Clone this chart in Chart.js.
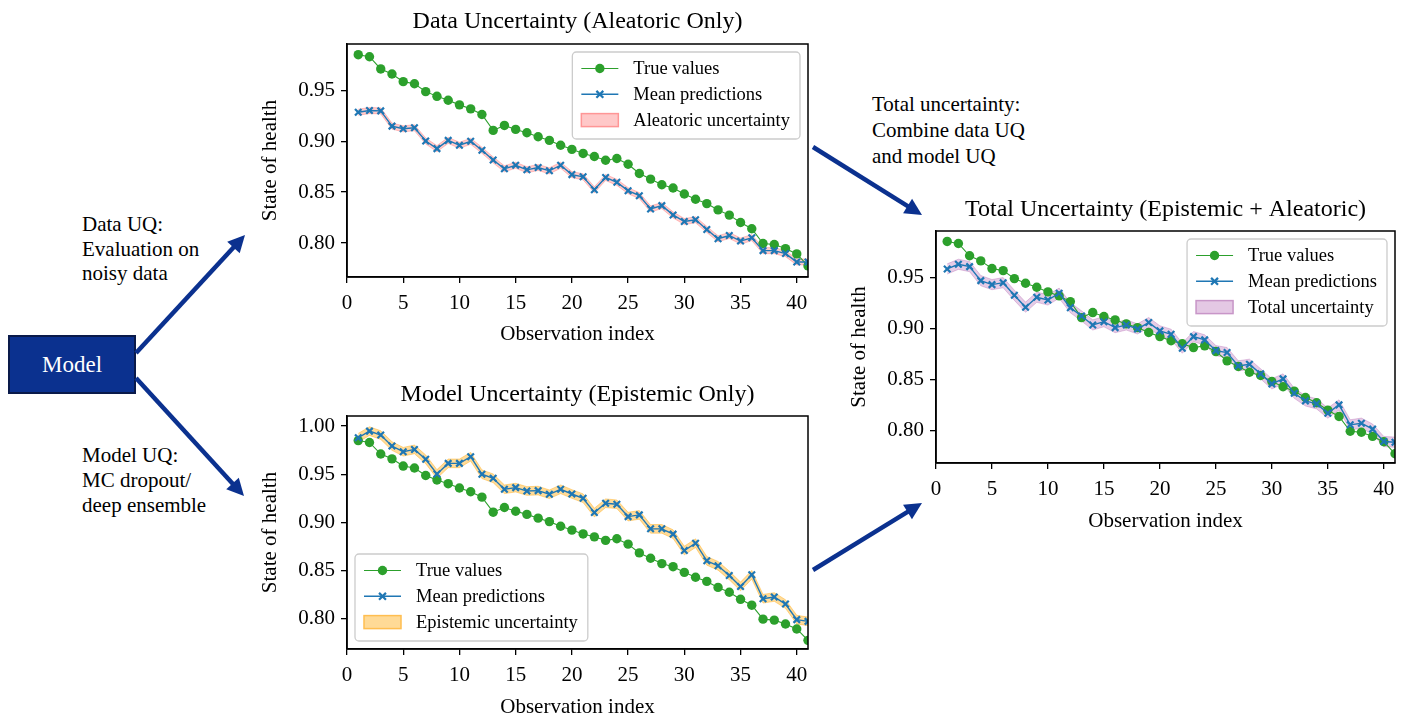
<!DOCTYPE html>
<html><head><meta charset="utf-8">
<script src="https://cdn.jsdelivr.net/npm/chart.js@4.4.0/dist/chart.umd.min.js"></script>
<style>
html,body{margin:0;padding:0;background:#fff;}
#stage{position:relative;width:1407px;height:716px;overflow:hidden;font-family:'Liberation Serif','Times New Roman',serif;color:#000;}
.cv{position:absolute;}
.note{position:absolute;font-size:21px;white-space:pre;}
#model{position:absolute;left:8px;top:335px;width:124px;height:55px;background:#0b318f;border:2px solid #0a1a4a;color:#fff;font-size:23px;display:flex;align-items:center;justify-content:center;}
#arrows{position:absolute;left:0;top:0;pointer-events:none;}
</style></head>
<body><div id="stage">
<canvas id="c1" class="cv" style="left:250px;top:0px;" width="570" height="347"></canvas>
<canvas id="c2" class="cv" style="left:250px;top:372px;" width="570" height="348"></canvas>
<canvas id="c3" class="cv" style="left:839px;top:187px;" width="568" height="347"></canvas>
<div id="model">Model</div>
<div class="note" style="left:82px;top:212px;line-height:24.5px;">Data UQ:
Evaluation on
noisy data</div>
<div class="note" style="left:82px;top:443px;line-height:25px;">Model UQ:
MC dropout/
deep ensemble</div>
<div class="note" style="left:872px;top:92px;line-height:25.8px;">Total uncertainty:
Combine data UQ
and model UQ</div>
<svg id="arrows" width="1407" height="716"></svg>
</div>
<script>
// ---------------- data ----------------
const obsIndex = [1,2,3,4,5,6,7,8,9,10,11,12,13,14,15,16,17,18,19,20,21,22,23,24,25,26,27,28,29,30,31,32,33,34,35,36,37,38,39,40,41];
const xTicks = [0,5,10,15,20,25,30,35,40];
const trueValues = [0.985,0.983,0.971,0.966,0.9585,0.9565,0.9487,0.9441,0.9402,0.9357,0.9318,0.9262,0.9106,0.9155,0.9116,0.9083,0.9044,0.9008,0.896,0.892,0.888,0.885,0.8813,0.883,0.8774,0.8683,0.8628,0.8572,0.854,0.8481,0.843,0.8387,0.8325,0.8274,0.8201,0.8140,0.7995,0.7985,0.7945,0.7893,0.7775];
const meanAleatoric = [0.9285,0.9301,0.9298,0.9148,0.9122,0.9132,0.9002,0.8927,0.9008,0.896,0.8999,0.8911,0.8816,0.8729,0.8764,0.8719,0.8742,0.8709,0.8764,0.8672,0.865,0.8523,0.8644,0.8596,0.8514,0.8465,0.8335,0.8367,0.8276,0.8211,0.8228,0.8133,0.8042,0.8074,0.8019,0.8052,0.7925,0.7925,0.7896,0.7814,0.7814];
const aleatoricHalf = [0.003,0.003,0.003,0.003,0.003,0.003,0.003,0.003,0.003,0.003,0.003,0.003,0.003,0.003,0.003,0.003,0.003,0.003,0.003,0.003,0.003,0.003,0.003,0.003,0.003,0.003,0.003,0.003,0.003,0.003,0.003,0.003,0.003,0.003,0.003,0.003,0.003,0.003,0.003,0.003,0.003];
const meanEpistemic = [0.9879,0.9948,0.9907,0.9793,0.9734,0.9758,0.9655,0.9503,0.9613,0.9613,0.9682,0.95,0.9458,0.9344,0.9361,0.9326,0.933,0.9292,0.9344,0.9295,0.9251,0.9102,0.9199,0.9188,0.906,0.9078,0.8933,0.8933,0.8878,0.8708,0.8784,0.8601,0.8549,0.8449,0.8335,0.8456,0.8207,0.8225,0.8152,0.799,0.7972];
const epistemicHalf = [0.0045,0.0045,0.0045,0.0045,0.0045,0.0045,0.0045,0.0045,0.0045,0.0045,0.0045,0.0045,0.0045,0.0045,0.0045,0.0045,0.0045,0.0045,0.0045,0.0045,0.0045,0.0045,0.0045,0.0045,0.0045,0.0045,0.0045,0.0045,0.0045,0.0045,0.0045,0.0045,0.0045,0.0045,0.0045,0.0045,0.0045,0.0045,0.0045,0.0045,0.0045];
const meanTotal = [0.9581,0.9627,0.9604,0.9467,0.9428,0.9447,0.9324,0.9207,0.9305,0.9278,0.9344,0.9203,0.9122,0.9034,0.9066,0.9008,0.9034,0.8995,0.9057,0.8976,0.8943,0.8807,0.892,0.8888,0.8783,0.8764,0.8634,0.865,0.8556,0.8458,0.8507,0.8367,0.8292,0.8263,0.8172,0.8253,0.8058,0.8074,0.8016,0.7895,0.7888];
const totalHalf = [0.005,0.005,0.005,0.005,0.005,0.005,0.005,0.005,0.005,0.005,0.005,0.005,0.005,0.005,0.005,0.005,0.005,0.005,0.005,0.005,0.005,0.005,0.005,0.005,0.005,0.005,0.005,0.005,0.005,0.005,0.005,0.005,0.005,0.005,0.005,0.005,0.005,0.005,0.005,0.005,0.005];
const yTicksAleatoric = [0.80,0.85,0.90,0.95];
const yTicksEpistemic = [0.80,0.85,0.90,0.95,1.00];
const yTicksTotal = [0.80,0.85,0.90,0.95];

// ---------------- chart setup ----------------
Chart.defaults.font.family = "'Liberation Serif','Times New Roman',serif";
Chart.defaults.color = '#000';
const FONT = "'Liberation Serif','Times New Roman',serif";

const frameAndLegend = {
  id: 'frameAndLegend',
  afterDatasetsDraw(chart, args, opts) {
    const ctx = chart.ctx, ca = chart.chartArea;
    ctx.save();
    ctx.strokeStyle = '#000'; ctx.lineWidth = 1.5;
    ctx.strokeRect(ca.left, ca.top, ca.right - ca.left, ca.bottom - ca.top);
    const items = chart.data.datasets.filter(d => d.legendRank !== undefined).sort((a,b) => a.legendRank - b.legendRank);
    ctx.font = '18.5px ' + FONT;
    const textX = 61, padR = 10, rowH = 25.8, top0 = 16.5, h = 87;
    const w = Math.max(...items.map(d => ctx.measureText(d.label).width)) + textX + padR;
    let x, y;
    if (opts.corner === 'lower left') { x = ca.left + opts.inset; y = ca.bottom - opts.inset - h; }
    else { x = ca.right - opts.inset - w; y = ca.top + opts.inset; }
    ctx.beginPath();
    ctx.roundRect(x, y, w, h, 4);
    ctx.fillStyle = 'rgba(255,255,255,0.8)'; ctx.fill();
    ctx.strokeStyle = '#cccccc'; ctx.lineWidth = 1.3; ctx.stroke();
    items.forEach((d, i) => {
      const ry = y + top0 + i * rowH;
      if (d.legendKind === 'patch') {
        ctx.fillStyle = d.legendFill; ctx.fillRect(x + 9, ry - 6.5, 37, 13);
        ctx.strokeStyle = d.legendEdge; ctx.lineWidth = 1.5; ctx.strokeRect(x + 9, ry - 6.5, 37, 13);
      } else {
        ctx.strokeStyle = d.borderColor; ctx.lineWidth = d.borderWidth;
        ctx.beginPath(); ctx.moveTo(x + 9, ry); ctx.lineTo(x + 46, ry); ctx.stroke();
        const cx = x + 27.5;
        if (d.pointStyle === 'circle') {
          ctx.fillStyle = d.pointBackgroundColor; ctx.beginPath(); ctx.arc(cx, ry, d.pointRadius, 0, Math.PI * 2); ctx.fill();
        } else {
          const r = d.pointRadius * 0.75;
          ctx.strokeStyle = d.pointBorderColor; ctx.lineWidth = d.pointBorderWidth;
          ctx.beginPath(); ctx.moveTo(cx - r, ry - r); ctx.lineTo(cx + r, ry + r); ctx.moveTo(cx - r, ry + r); ctx.lineTo(cx + r, ry - r); ctx.stroke();
        }
      }
      ctx.fillStyle = '#000'; ctx.textBaseline = 'middle'; ctx.textAlign = 'left';
      ctx.fillText(d.label, x + textX, ry + 1);
    });
    ctx.restore();
  }
};

function pts(vals) { return obsIndex.map((x, i) => ({ x: x, y: vals[i] })); }
function shifted(vals, half, sign) { return obsIndex.map((x, i) => ({ x: x, y: vals[i] + sign * half[i] })); }

function makeChart(id, p) {
  return new Chart(document.getElementById(id), {
    type: 'line',
    data: {
      datasets: [
        { label: 'band-lower', data: shifted(p.mean, p.half, -1), borderColor: p.edge, borderWidth: 1, pointRadius: 0, fill: false, order: 3, tension: 0 },
        { label: p.bandLabel, data: shifted(p.mean, p.half, 1), borderColor: p.edge, borderWidth: 1, pointRadius: 0, fill: '-1', backgroundColor: p.fill, order: 2, tension: 0,
          legendRank: 2, legendKind: 'patch', legendFill: p.legendFill, legendEdge: p.legendEdge },
        { label: 'True values', data: pts(trueValues), borderColor: '#2ca02c', borderWidth: 1.1, pointStyle: 'circle', pointRadius: 4.7, pointBorderWidth: 0,
          pointBackgroundColor: '#2ca02c', pointBorderColor: '#2ca02c', order: 1, tension: 0, legendRank: 0, legendKind: 'line' },
        { label: 'Mean predictions', data: pts(p.mean), borderColor: '#1f77b4', borderWidth: 1.4, pointStyle: 'crossRot', pointRadius: 4.6, pointBorderWidth: 2.2,
          pointBackgroundColor: '#1f77b4', pointBorderColor: '#1f77b4', order: 0, tension: 0, legendRank: 1, legendKind: 'line' }
      ]
    },
    options: {
      responsive: false, animation: false, devicePixelRatio: 1,
      layout: { padding: { left: 0, top: 0, right: 12, bottom: 0 } },
      plugins: {
        legend: { display: false }, tooltip: { enabled: false },
        title: { display: true, fullSize: false, text: p.title, font: { size: 24, weight: 'normal', lineHeight: 1.2 }, padding: { top: p.titleTop, bottom: 44 - p.titleTop - 28.8 }, color: '#000' },
        frameAndLegend: { corner: p.corner, inset: p.inset }
      },
      scales: {
        x: {
          type: 'linear', min: 0, max: 41,
          afterBuildTicks: s => { s.ticks = xTicks.map(v => ({ value: v })); },
          afterFit: s => { s.height = p.xAxisH; },
          ticks: { font: { size: 21 }, padding: 8, maxRotation: 0, callback: v => String(v) },
          grid: { display: true, drawOnChartArea: false, drawTicks: true, tickLength: 6, color: '#000', lineWidth: 1.3 },
          border: { display: true, color: '#000', width: 1.5 },
          title: { display: true, text: 'Observation index', font: { size: 21 }, padding: { top: 0, bottom: 0 } }
        },
        y: {
          type: 'linear', min: p.ymin, max: p.ymax,
          afterBuildTicks: s => { s.ticks = p.yTicks.map(v => ({ value: v })); },
          afterFit: s => { s.width = 97; },
          ticks: { font: { size: 21 }, padding: 6, callback: v => Number(v).toFixed(2) },
          grid: { display: true, drawOnChartArea: false, drawTicks: true, tickLength: 6, color: '#000', lineWidth: 1.3 },
          border: { display: true, color: '#000', width: 1.5 },
          title: { display: true, text: 'State of health', font: { size: 21 }, padding: { top: 8, bottom: 0 } }
        }
      }
    },
    plugins: [frameAndLegend]
  });
}

makeChart('c1', { title: 'Data Uncertainty (Aleatoric Only)', mean: meanAleatoric, half: aleatoricHalf, bandLabel: 'Aleatoric uncertainty',
  fill: 'rgba(255,0,0,0.2)', edge: 'rgba(255,0,0,0.2)', legendFill: 'rgba(255,200,200,1)', legendEdge: 'rgba(255,150,150,1)',
  ymin: 0.7666, ymax: 0.9955, yTicks: yTicksAleatoric, corner: 'upper right', inset: 8, xAxisH: 70, titleTop: 7 });
makeChart('c2', { title: 'Model Uncertainty (Epistemic Only)', mean: meanEpistemic, half: epistemicHalf, bandLabel: 'Epistemic uncertainty',
  fill: 'rgba(255,165,0,0.4)', edge: 'rgba(255,165,0,0.4)', legendFill: 'rgba(255,218,150,1)', legendEdge: 'rgba(255,190,80,1)',
  ymin: 0.7685, ymax: 1.0105, yTicks: yTicksEpistemic, corner: 'lower left', inset: 8, xAxisH: 71, titleTop: 8 });
makeChart('c3', { title: 'Total Uncertainty (Epistemic + Aleatoric)', mean: meanTotal, half: totalHalf, bandLabel: 'Total uncertainty',
  fill: 'rgba(128,0,128,0.2)', edge: 'rgba(128,0,128,0.2)', legendFill: 'rgba(228,200,228,1)', legendEdge: 'rgba(200,150,200,1)',
  ymin: 0.7685, ymax: 0.9952, yTicks: yTicksTotal, corner: 'upper right', inset: 8, xAxisH: 71, titleTop: 8 });

// ---------------- arrows ----------------
const svg = document.getElementById('arrows');
const NS = 'http://www.w3.org/2000/svg';
function arrow(x1, y1, x2, y2) {
  const col = '#0b318f', hl = 17, hw = 8.5, lw = 4.5;
  const dx = x2 - x1, dy = y2 - y1, L = Math.hypot(dx, dy), ux = dx / L, uy = dy / L;
  const bx = x2 - ux * hl, by = y2 - uy * hl;
  const line = document.createElementNS(NS, 'line');
  line.setAttribute('x1', x1); line.setAttribute('y1', y1);
  line.setAttribute('x2', bx + ux * 2); line.setAttribute('y2', by + uy * 2);
  line.setAttribute('stroke', col); line.setAttribute('stroke-width', lw);
  svg.appendChild(line);
  const poly = document.createElementNS(NS, 'polygon');
  poly.setAttribute('points', `${x2},${y2} ${bx - uy * hw},${by + ux * hw} ${bx + uy * hw},${by - ux * hw}`);
  poly.setAttribute('fill', col);
  svg.appendChild(poly);
}
arrow(136, 353, 245, 235);
arrow(136, 378, 244, 496);
arrow(813, 147, 922, 215);
arrow(813, 570, 922, 503);
</script>
</body></html>
